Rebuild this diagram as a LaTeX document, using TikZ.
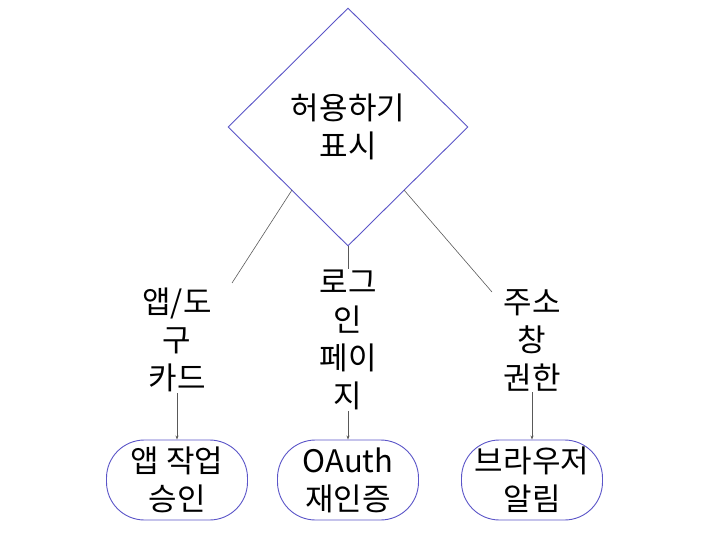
\documentclass[tikz,border=0pt]{standalone}
\usepackage{fontspec}
\setmainfont{Noto Sans CJK KR}
\usetikzlibrary{shapes.geometric,arrows.meta}
\definecolor{edge}{HTML}{5B55C8}
\begin{document}
\begin{tikzpicture}[x=1pt,y=-1pt,
  txt/.style={font=\fontsize{31}{38}\selectfont,align=center,text=black},
  leaf/.style={txt,draw=edge,line width=0.9pt,fill=white,rounded corners=38pt,minimum width=141pt,minimum height=80pt,inner sep=0pt},
  lab/.style={txt,fill=white,inner sep=1pt},
  conn/.style={draw=black!65,line width=0.6pt},
  arr/.style={conn,-{Stealth[length=4pt,width=3pt]}}]
\useasboundingbox (0,0) rectangle (720,540);
\node[txt,draw=edge,line width=0.9pt,fill=white,diamond,minimum width=240pt,minimum height=238pt,inner sep=0pt,aspect=1.01] (d) at (348,127) {허용하기\\표시};
\node[leaf] (a) at (177,480) {앱 작업\\승인};
\node[leaf] (b) at (348,480) {OAuth\\재인증};
\node[leaf] (c) at (532,480) {브라우저\\알림};
\node[lab] (la) at (177,340) {앱/도\\구\\카드};
\node[lab] (lb) at (348,340) {로그\\인\\페이\\지};
\node[lab] (lc) at (532,340) {주소\\창\\권한};
\draw[conn] (292,190) -- (232,283);
\draw[conn] (d.south) -- (lb.north);
\draw[conn] (404,190) -- (492,292);
\draw[arr] (la.south) -- (a.north);
\draw[arr] (lb.south) -- (b.north);
\draw[arr] (lc.south) -- (c.north);
\end{tikzpicture}
\end{document}
